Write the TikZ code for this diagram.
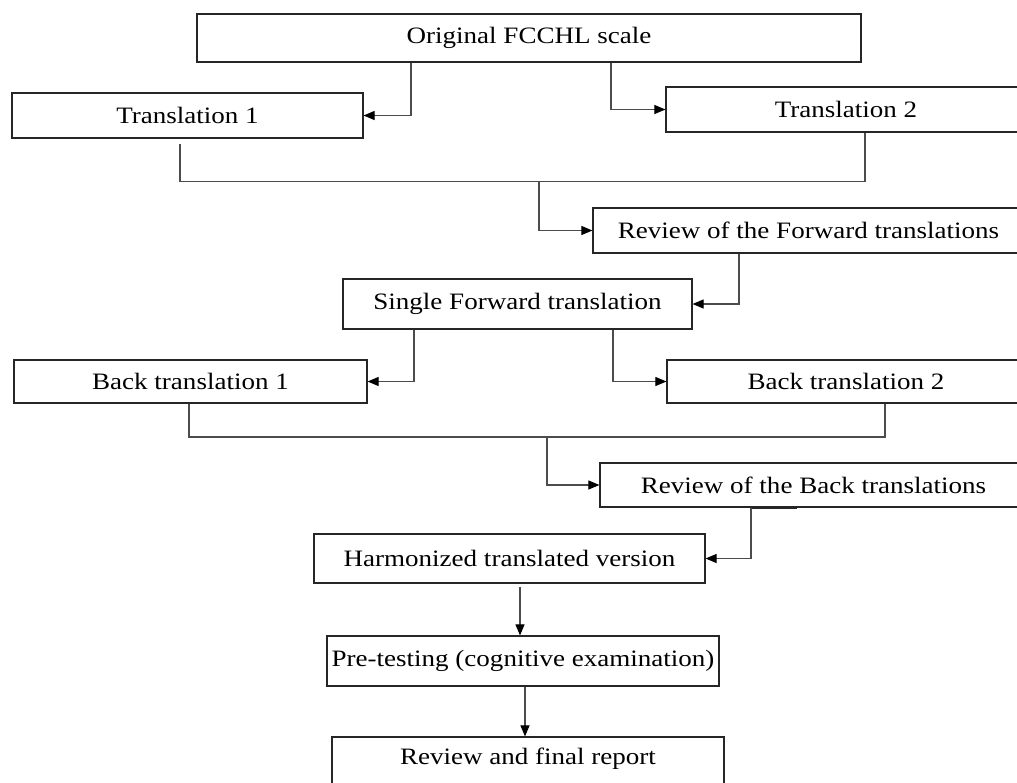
\documentclass[tikz,border=0pt]{standalone}
\usepackage{fontspec}
\setmainfont{Liberation Serif}[FakeStretch=1.15]
\usetikzlibrary{arrows.meta}
\begin{document}
\begin{tikzpicture}[x=1pt,y=-1pt,
  box/.style={draw=black!85,line width=1.2pt,inner sep=0pt,anchor=center,
    font=\fontsize{23.5}{28}\selectfont,text=black},
  conn/.style={draw=black!70,line width=1.1pt},
  arr/.style={conn,-{Triangle[length=11pt,width=9pt,black]}}]
\useasboundingbox (0,0) rectangle (1017,782);
\clip (0,0) rectangle (1017,782);
\fill[white] (0,0) rectangle (1017,782);
% nodes (centre, size)
\node[box,minimum width=664pt,minimum height=48pt] (orig) at (529,38) {Original FCCHL scale};
\node[box,minimum width=351pt,minimum height=45pt] (t1) at (187.5,115.5) {Translation 1};
\node[box,minimum width=360pt,minimum height=45pt] (t2) at (846,109.5) {Translation 2};
\node[box,minimum width=431pt,minimum height=45pt] (rfw) at (808.5,230.5) {Review of the Forward translations};
\node[box,minimum width=349pt,minimum height=50pt] (sf) at (517.5,304) {Single Forward translation};
\node[box,minimum width=353pt,minimum height=43pt] (bt1) at (190.5,381.5) {Back translation 1};
\node[box,minimum width=358pt,minimum height=43pt] (bt2) at (846,381.5) {Back translation 2};
\node[box,minimum width=427pt,minimum height=44pt] (rbk) at (813.5,485) {Review of the Back translations};
\node[box,minimum width=391pt,minimum height=49pt] (harm) at (509.5,558.5) {Harmonized translated version};
\node[box,minimum width=392pt,minimum height=50pt] (pre) at (523,661) {Pre-testing (cognitive examination)};
\node[box,minimum width=392pt,minimum height=54pt] (fin) at (528,764) {};
\node[anchor=center,font=\fontsize{23.5}{28}\selectfont,text=black] (finlabel) at (528,759) {Review and final report};
% joins
\coordinate (j1) at (539,181.5);
\coordinate (j2) at (547,437);
% connectors
\draw[arr] (orig.south -| 411,0) |- (t1.east);
\draw[arr] (orig.south -| 611,0) |- (t2.west);
\draw[conn] ([yshift=-5pt]t1.south -| 180,0) -- (180,181.5) -- (865,181.5) -- (t2.south -| 865,0);
\draw[arr] (j1) |- (rfw.west);
\draw[arr] (rfw.south -| 739,0) |- (sf.east);
\draw[arr] (sf.south -| 414,0) |- (bt1.east);
\draw[arr] (sf.south -| 613,0) |- (bt2.west);
\draw[conn] (bt1.south -| 189,0) -- (189,437) -- (885,437) -- (bt2.south -| 885,0);
\draw[arr] (j2) |- (rbk.west);
\draw[line width=2pt,black!85] (rbk.south -| 751,0) -- (rbk.south -| 797,0);
\draw[arr] (rbk.south -| 751,0) |- (harm.east);
\draw[arr] ([yshift=-3pt]harm.south -| 520,0) -- (pre.north -| 520,0);
\draw[arr] (pre.south -| 525,0) -- (fin.north -| 525,0);
\end{tikzpicture}
\end{document}
